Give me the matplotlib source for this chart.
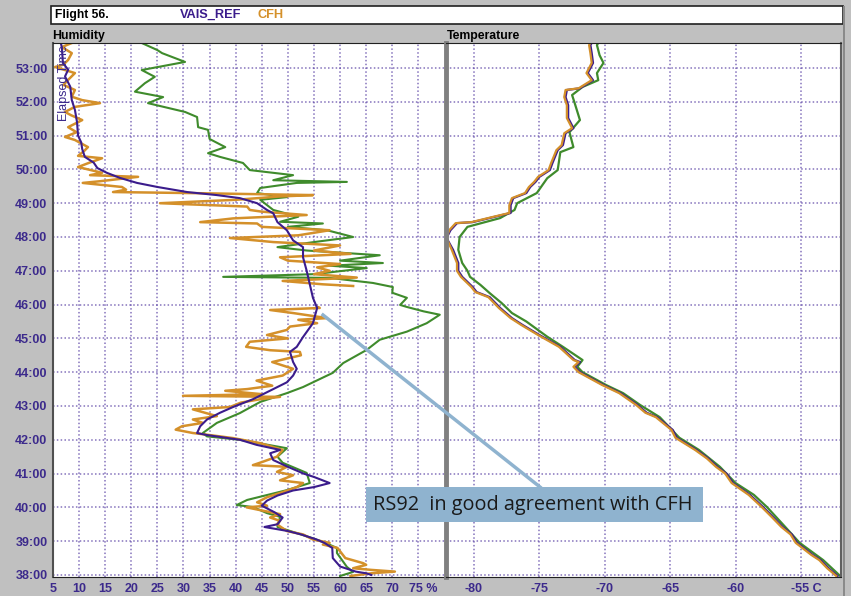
import numpy as np
import matplotlib
matplotlib.use('Agg')
import matplotlib.pyplot as plt
from matplotlib.patches import Rectangle
import matplotlib.transforms as mtransforms

# 데이터 (elapsed time in minutes)
ref_hum_t = [38.0, 38.05, 38.1, 38.25, 38.5, 38.8, 38.95, 39.05, 39.2, 39.3, 39.42, 39.5, 39.7,
             39.85, 40.05, 40.2, 40.35, 40.5, 40.6, 40.72, 40.9, 41.0, 41.2, 41.4, 41.6, 41.7,
             41.85, 42.0, 42.14, 42.2, 42.4, 42.6, 42.8, 42.97, 43.2, 43.5, 43.7, 43.9, 44.1,
             44.3, 44.6, 44.75, 45.04, 45.45, 45.9, 46.2, 46.6, 47.0, 47.4, 47.7, 47.9, 48.2,
             48.44, 48.7, 48.8, 49.0, 49.15, 49.24, 49.33, 49.48, 49.6, 49.75, 49.9, 50.04,
             50.2, 50.37, 50.6, 50.8, 51.0, 51.4, 51.76, 52.05, 52.45, 52.75, 52.95, 53.15,
             53.6, 53.74]
ref_hum = [66, 65, 63, 60, 58.6, 58.5, 57, 55.5, 52.5, 50, 45.5, 48, 49,
           47.5, 45, 46, 48, 51, 55, 58, 55, 53, 50, 47.2, 46.6, 48.5,
           44, 40.8, 34.5, 32.6, 33.2, 34.5, 37, 39.5, 43.3, 47.2, 49.8, 51, 51.7,
           51, 50.4, 51.7, 52.9, 54.8, 55.6, 54.8, 54.2, 53.6, 52.9, 52.9, 51, 49.8,
           48, 47.2, 46, 44.1, 40.8, 36.4, 30.7, 25, 21.1, 17.8, 15.3, 13.5,
           12.8, 11.1, 10.6, 10.4, 9.8, 9.6, 9.2, 8.6, 8.3, 7.3, 7.9, 6.9,
           6.7, 6.5]

cfh_hum_t = [37.97, 38.05, 38.1, 38.15, 38.2, 38.3, 38.35, 38.5, 38.8, 38.9, 38.95, 39.05, 39.2,
             39.3, 39.5, 39.6, 39.7, 39.8, 40.0, 40.05, 40.15, 40.3, 40.45, 40.6, 40.72, 40.8,
             40.95, 41.05, 41.2, 41.25, 41.35, 41.5, 41.7, 41.9, 42.05, 42.15, 42.2, 42.3, 42.4,
             42.5, 42.6, 42.7, 42.9, 42.97, 43.1, 43.2, 43.27, 43.3, 43.35, 43.45, 43.5, 43.6,
             43.75, 43.9, 44.1, 44.3, 44.5, 44.6, 44.65, 44.75, 44.9, 45.0, 45.1, 45.25, 45.35,
             45.45, 45.55, 45.6, 45.75, 45.84, 45.9, 45.93, 46.2,
             46.55, 46.6, 46.7, 46.8, 46.9, 47.0, 47.1, 47.2, 47.3, 47.4, 47.5, 47.6, 47.75,
             47.85, 47.97, 48.05, 48.2, 48.3, 48.4, 48.44, 48.55, 48.65, 48.75, 48.8, 48.9,
             49.0, 49.1, 49.2, 49.24, 49.3, 49.33, 49.4, 49.48, 49.6, 49.65, 49.78, 49.83,
             49.9, 50.07, 50.2, 50.33, 50.4, 50.55, 50.66, 50.87, 50.96, 51.1, 51.25, 51.46,
             51.6, 51.7, 51.85, 51.96, 52.05, 52.15, 52.35, 52.5, 52.65, 52.85, 53.03, 53.1,
             53.24, 53.44, 53.62, 53.74]
cfh_hum = [62, 66, 70.5, 66, 62.5, 65, 64.4, 61, 59.5, 56.7, 58, 54.8, 52.9,
           49.8, 47.9, 48.5, 46.6, 48.5, 42.1, 46, 44.1, 46, 49, 51.7, 52.9, 48.5,
           51, 47.9, 49.8, 43.3, 45.2, 47.9, 49, 44.7, 39.5, 34.5, 31.8, 28.5, 29.7,
           33.7, 31.8, 36.4, 31.8, 38.9, 41, 44.7, 48.5, 29.9, 45, 38, 42.2, 47,
           44, 49, 51, 47, 52.5, 52.3, 46.6, 42, 42.7, 50, 46, 49.8, 50.4,
           55.6, 52, 57.5, 51, 46.6, 56.1, 55.6, np.nan,
           62.5, 56.7, 49, 63.2, 55, 58, 55.6, 60, 50, 48.5, 62, 55, 60,
           47.2, 38.9, 52, 58, 45, 44.1, 33.2, 39.5, 53.6, 45, 42.7, 42.2,
           25.5, 40, 48.5, 54.8, 31.2, 16.5, 19, 18.2, 10.7, 14, 21.3, 12.1,
           14.4, 9.8, 12, 14.4, 9.8, 11, 11.7, 9.2, 7.3, 9.5, 7.9, 10.6,
           8.5, 7.3, 9.2, 14, 10.6, 8.6, 9.2, 7, 7.9, 9.2, 5.4, 7,
           7.9, 8.6, 6.7, 8.6]

oth_hum_t = [37.97, 38.09, 38.24, 38.65, 38.8, 38.98, 39.18, 39.42, 39.72, 39.83, 40.01, 40.07,
             40.22, 40.51, 40.72, 41.02, 41.32, 41.5, 41.75, 42.0, 42.1, 42.2, 42.5, 42.79,
             43.12, 43.38, 43.56, 43.98, 44.27, 44.66, 44.96, 45.2, 45.45, 45.7, 45.8, 45.93,
             45.99, 46.2, 46.35, 46.52, 46.64, 46.79, 46.82, 46.9, 47.08, 47.15, 47.23, 47.3,
             47.46, 47.6, 47.7, 47.85, 48.0, 48.2, 48.3, 48.4, 48.45, 48.6, 48.8, 49.1, 49.18,
             49.3, 49.45, 49.6, 49.63, 49.68, 49.83, 49.98, 50.19, 50.37, 50.48, 50.66, 50.9,
             51.17, 51.25, 51.55, 51.7, 51.96, 52.14, 52.3, 52.55, 52.74, 52.94, 53.18, 53.44,
             53.53, 53.74]
oth_hum = [60, 62.5, 61.3, 59.4, 59.4, 56.7, 52.9, 48, 48.5, 46, 43.3, 40.2,
           42.2, 49.8, 54.2, 53.6, 49, 48, 49.8, 40.8, 34.5, 33.7, 36.4, 40.8,
           44.7, 49.8, 52.9, 58.6, 60.6, 65.1, 67.6, 72.8, 76.6, 79.1, 76, 72.8,
           71.5, 72.8, 70, 70.1, 66.3, 58, 37.6, 55, 65.1, 58, 68.2, 60,
           67.6, 53.6, 48, 55, 62.5, 57.5, 50, 56.7, 48.5, 52, 47.2, 44.7, 49.8,
           44.1, 44.7, 51.7, 61.3, 47.2, 51, 42.7, 41.4, 37, 34.7, 38, 35,
           34.7, 32.8, 32.6, 30.3, 23.2, 26.1, 20.7, 22.6, 24.5, 22, 30.3, 25.9,
           25, 22]

ref_tmp_t = [37.97, 38.2, 38.44, 38.59, 38.95, 39.2, 39.42, 39.7, 40.01, 40.37, 40.72, 41.0,
             41.2, 41.45, 41.7, 42.06, 42.29, 42.67, 42.8, 43.03, 43.38, 43.62, 44.0, 44.16,
             44.3, 44.36, 44.75, 45.1, 45.4, 45.6, 45.9, 46.22, 46.37, 46.52, 46.82, 47.0,
             47.23, 47.62, 47.97, 48.2, 48.41, 48.44, 48.59, 48.71, 48.94, 49.15, 49.3, 49.48,
             49.63, 49.78, 49.98, 50.19, 50.57, 50.72, 51.07, 51.22, 51.52, 51.9, 52.14,
             52.35, 52.4, 52.64, 52.85, 53.15, 53.44, 53.68, 53.74]
ref_tmp = [-52.2, -52.9, -53.5, -54.1, -55.3, -55.7, -56.4, -57.1, -57.9, -58.9, -60.2, -60.7,
           -61.4, -62.1, -63.0, -64.5, -64.8, -66.0, -66.8, -67.5, -68.8, -70.1, -71.9, -72.3,
           -71.9, -72.3, -73.4, -75.0, -76.3, -77.1, -78.0, -78.8, -79.8, -80.1, -80.9, -81.2,
           -81.2, -81.6, -82.1, -81.8, -81.3, -80.1, -78.5, -77.2, -77.2, -77.0, -76.0, -75.7,
           -75.3, -75.0, -74.2, -74.0, -73.6, -73.2, -73.0, -72.4, -72.8, -72.8, -73.0,
           -72.9, -71.9, -70.9, -71.3, -70.9, -71.0, -71.1, -71.0]

cfh_tmp_t = [37.97, 38.2, 38.44, 38.59, 38.95, 39.2, 39.42, 39.7, 40.01, 40.37, 40.72, 41.0,
             41.2, 41.45, 41.7, 42.06, 42.29, 42.67, 42.8, 43.03, 43.38, 43.62, 44.0, 44.16,
             44.3, 44.36, 44.75, 45.1, 45.4, 45.6, 45.9, 46.22, 46.37, 46.52, 46.82, 47.0,
             47.23, 47.62, 47.97, 48.2, 48.41, 48.44, 48.59, 48.71, 48.94, 49.15, 49.3, 49.48,
             49.63, 49.78, 49.98, 50.19, 50.57, 50.72, 51.07, 51.22, 51.52, 51.9, 52.14,
             52.35, 52.4, 52.64, 52.85, 53.15, 53.44, 53.68, 53.74]
cfh_tmp = [-52.3, -53.0, -53.6, -54.2, -55.4, -55.8, -56.5, -57.2, -58.0, -59.0, -60.3, -60.8,
           -61.5, -62.2, -63.1, -64.6, -64.9, -66.1, -66.9, -67.6, -68.9, -70.2, -72.0, -72.4,
           -72.0, -72.4, -73.5, -75.1, -76.4, -77.2, -78.1, -78.9, -79.9, -80.2, -81.0, -81.3,
           -81.3, -81.7, -82.1, -81.9, -81.4, -80.2, -78.6, -77.3, -77.3, -77.1, -76.1, -75.8,
           -75.4, -75.1, -74.3, -74.1, -73.7, -73.3, -73.1, -72.5, -72.9, -72.9, -73.1,
           -73.0, -72.0, -71.0, -71.4, -71.0, -71.1, -71.2, -71.1]

oth_tmp_t = [37.97, 38.44, 38.95, 39.42, 40.01, 40.37, 40.72, 41.2, 41.7, 42.06, 42.67, 43.03,
             43.38, 43.62, 44.0, 44.16, 44.36, 44.75, 45.05, 45.5, 45.75, 46.05, 46.34, 46.58,
             46.82, 47.0, 47.23, 47.62, 48.0, 48.3, 48.56, 48.8, 49.0, 49.3, 49.74, 49.98,
             50.51, 50.66, 51.1, 51.46, 51.96, 52.2, 52.44, 52.64, 52.85, 53.15, 53.38, 53.68,
             53.74]
oth_tmp = [-52.0, -53.3, -55.1, -56.2, -57.6, -58.6, -60.0, -61.2, -62.8, -64.3, -65.8, -67.3,
           -68.6, -69.9, -71.7, -72.1, -71.7, -73.2, -74.4, -76.0, -77.1, -77.9, -78.8, -79.5,
           -80.3, -80.5, -80.9, -81.2, -81.1, -80.5, -78.0, -76.9, -76.7, -75.2, -74.4, -73.6,
           -73.4, -72.4, -72.7, -71.9, -72.3, -72.5, -71.7, -70.5, -70.6, -70.1, -70.4, -70.6,
           -70.5]

time_ticks = list(range(38, 54))
time_labels = [f'{m}:00' for m in time_ticks]
hum_ticks = list(range(5, 75, 5))
tmp_ticks = [-80, -75, -70, -65, -60]

# 색상
BG = '#c0c0c0'
C_REF = '#3b1c8c'
C_CFH = '#d4902a'
C_OTH = '#3f8b2c'
C_GRID = '#5c44a6'
C_TICK = '#3c2a8c'

W, H = 851, 596
fig = plt.figure(figsize=(W / 100, H / 100), dpi=100, facecolor=BG)


def fx(px):
    return px / W


def fy(py):
    return 1 - py / H


# 헤더 박스
fig.patches.append(Rectangle((fx(51), fy(24)), fx(843) - fx(51), fy(6) - fy(24),
                             transform=fig.transFigure, facecolor='white',
                             edgecolor='#202020', linewidth=1.2))
fig.patches.append(Rectangle((fx(843), fy(596)), fx(2), fy(6) - fy(596),
                             transform=fig.transFigure, facecolor='#8a8a8a', edgecolor='none'))
fig.text(fx(55), fy(15), 'Flight 56.', fontsize=8.7, fontweight='bold', color='black',
         family='Liberation Sans', va='center')
fig.text(fx(180), fy(15), 'VAIS_REF', fontsize=9.2, fontweight='bold', color=C_REF,
         family='Liberation Sans', va='center')
fig.text(fx(258), fy(15), 'CFH', fontsize=9.2, fontweight='bold', color=C_CFH,
         family='Liberation Sans', va='center')
fig.text(fx(52), fy(36), 'Humidity', fontsize=8.8, fontweight='bold', color='black',
         family='Liberation Sans', va='center')
fig.text(fx(447), fy(36), 'Temperature', fontsize=8.8, fontweight='bold', color='black',
         family='Liberation Sans', va='center')

ax1 = fig.add_axes([fx(53), fy(577), fx(445) - fx(53), fy(43) - fy(577)])
ax2 = fig.add_axes([fx(446), fy(577), fx(841) - fx(446), fy(43) - fy(577)])

for ax in (ax1, ax2):
    ax.set_facecolor('white')
    ax.set_ylim(37.94, 53.74)
    ax.set_yticks(time_ticks)
    ax.grid(True, color=C_GRID, linestyle=(0, (1, 1.5)), linewidth=1.1, alpha=0.75)
    ax.tick_params(length=0, labelsize=9, labelcolor=C_TICK, pad=4)
    ax.spines['top'].set_color('#202020')
    ax.spines['bottom'].set_color('#202020')

# Humidity
ax1.set_xlim(5, 80.1)
ax1.set_xticks(hum_ticks + [75])
ax1.set_xticklabels([str(v) for v in hum_ticks] + [''], fontweight='bold', family='Liberation Sans')
ax1.set_yticklabels(time_labels, fontweight='bold', family='Liberation Sans')
ax1.spines['left'].set_color('#505050')
ax1.spines['left'].set_linewidth(1.5)
ax1.spines['right'].set_visible(False)
ax1.plot(oth_hum, oth_hum_t, color=C_OTH, lw=1.5)
ax1.plot(cfh_hum, cfh_hum_t, color=C_CFH, lw=1.8)
ax1.plot(ref_hum, ref_hum_t, color=C_REF, lw=1.5)
trans1 = mtransforms.blended_transform_factory(ax1.transData, ax1.transAxes)
ax1.annotate('75 %', xy=(75, 0), xycoords=trans1, xytext=(-6.5, -4), textcoords='offset points',
             ha='left', va='top', fontsize=9, fontweight='bold', color=C_TICK,
             family='Liberation Sans', annotation_clip=False)
ax1.text(0.013, 0.995, 'Elapsed Time', transform=ax1.transAxes, rotation=90, ha='left', va='top',
         fontsize=9, color=C_TICK, family='Liberation Sans')

# Temperature
ax2.set_xlim(-82.14, -51.94)
ax2.set_xticks(tmp_ticks + [-55])
ax2.set_xticklabels([str(v) for v in tmp_ticks] + [''], fontweight='bold', family='Liberation Sans')
ax2.set_yticklabels([])
ax2.spines['left'].set_color('#808080')
ax2.spines['left'].set_linewidth(3.5)
ax2.spines['right'].set_color('#606060')
ax2.spines['right'].set_linewidth(1.5)
ax2.plot(oth_tmp, oth_tmp_t, color=C_OTH, lw=1.6)
ax2.plot(ref_tmp, ref_tmp_t, color=C_REF, lw=1.6)
ax2.plot(cfh_tmp, cfh_tmp_t, color=C_CFH, lw=1.6)
trans2 = mtransforms.blended_transform_factory(ax2.transData, ax2.transAxes)
ax2.annotate('-55 C', xy=(-55, 0), xycoords=trans2, xytext=(-7, -4), textcoords='offset points',
             ha='left', va='top', fontsize=9, fontweight='bold', color=C_TICK,
             family='Liberation Sans', annotation_clip=False)

# 주석 (callout)
fig.add_artist(plt.Line2D([fx(323), fx(540)], [fy(315), fy(487)], transform=fig.transFigure,
                          color='#8fb3cf', linewidth=2.5))
fig.patches.append(Rectangle((fx(366), fy(522)), fx(703) - fx(366), fy(487) - fy(522),
                             transform=fig.transFigure, facecolor='#8fb3cf', edgecolor='none'))
fig.text(fx(373), fy(505), 'RS92  in good agreement with CFH', fontsize=14.3, color='#1a1a1a',
         family='Open Sans', va='center', ha='left')

fig.savefig('out.png', dpi=100, facecolor=BG)
